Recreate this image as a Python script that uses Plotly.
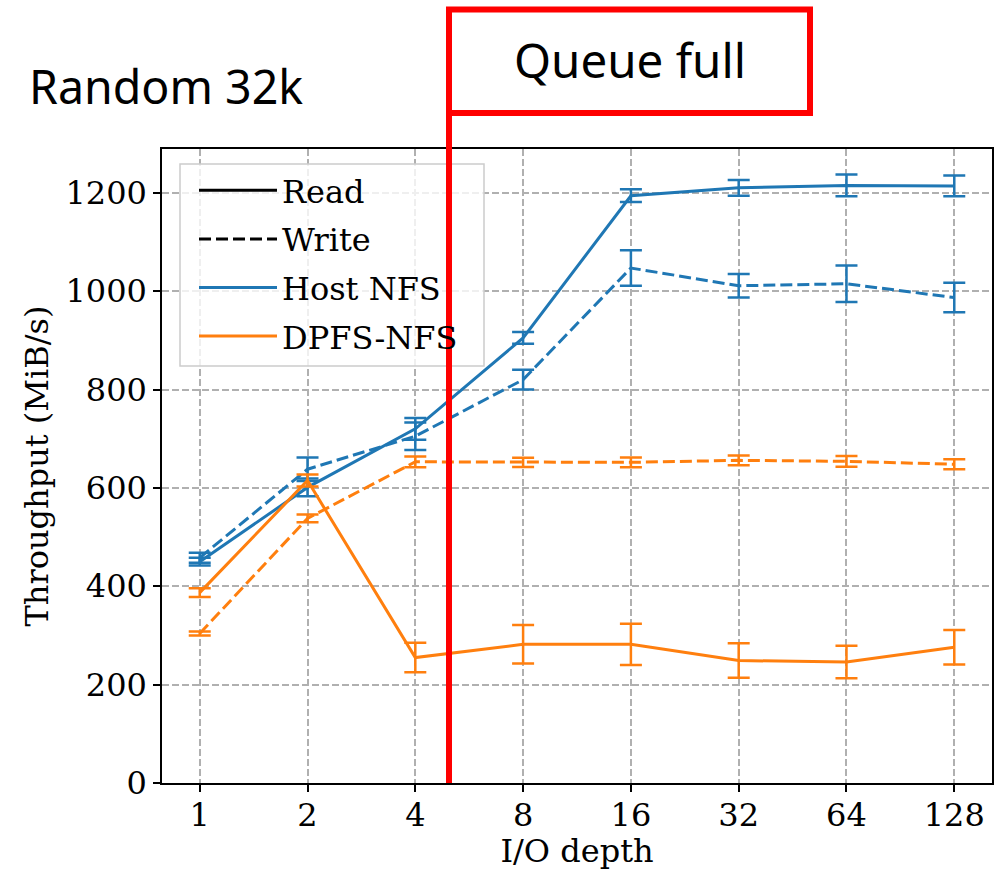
import plotly.graph_objects as go

depths = ["1", "2", "4", "8", "16", "32", "64", "128"]

host_read = [450, 601, 720, 905, 1194, 1210, 1215, 1214]
host_read_err = [8, 18, 22, 12, 13, 16, 22, 21]
host_write = [458, 638, 705, 820, 1047, 1011, 1015, 987]
host_write_err = [10, 24, 28, 20, 36, 24, 37, 30]
dpfs_read = [387, 615, 255, 282, 282, 249, 246, 276]
dpfs_read_err = [9, 12, 30, 39, 42, 35, 33, 35]
dpfs_write = [304, 538, 653, 652, 652, 656, 654, 648]
dpfs_write_err = [4, 8, 11, 9.5, 10, 10, 11, 10]

y_ticks = [0, 200, 400, 600, 800, 1000, 1200]

BLUE = "#1f77b4"
ORANGE = "#ff7f0e"
SERIF = "DejaVu Serif"
SANS = "Noto Sans"
FS = 32

fig = go.Figure()

def series(y, err, color, dash):
    fig.add_trace(go.Scatter(
        x=depths, y=y, mode="lines",
        line=dict(color=color, width=3, dash=dash),
        error_y=dict(type="data", array=err, visible=True, color=color,
                     thickness=2.5, width=11),
        showlegend=False, hoverinfo="skip",
    ))

series(host_read, host_read_err, BLUE, "solid")
series(host_write, host_write_err, BLUE, "12px,5px")
series(dpfs_read, dpfs_read_err, ORANGE, "solid")
series(dpfs_write, dpfs_write_err, ORANGE, "12px,5px")

# legend entries
legend_items = [("Read", "black", "solid"), ("Write", "black", "12px,5px"),
                ("Host NFS", BLUE, "solid"), ("DPFS-NFS", ORANGE, "solid")]
for i, (name, color, dash) in enumerate(legend_items):
    fig.add_trace(go.Scatter(
        x=[None], y=[None], mode="lines", name=name,
        line=dict(color=color, width=3, dash=dash),
        legendgroup=f"g{i}", showlegend=True,
    ))

def px_x(px):
    return (px - 162) / 830

def px_y(py):
    return (783 - py) / 634

shapes = [
    # legend background (semi transparent white)
    dict(type="rect", xref="paper", yref="paper",
         x0=px_x(180), x1=px_x(484), y0=px_y(366), y1=px_y(164),
         fillcolor="rgba(255,255,255,0.8)", line=dict(color="#cccccc", width=1.5),
         layer="above"),
    # queue-full vertical line
    dict(type="line", xref="paper", yref="paper",
         x0=px_x(449), x1=px_x(449), y0=0, y1=px_y(9.5),
         line=dict(color="#ff0000", width=6), layer="above"),
    # box
    dict(type="rect", xref="paper", yref="paper",
         x0=px_x(449), x1=px_x(810), y0=px_y(113), y1=px_y(9.5),
         line=dict(color="#ff0000", width=6), fillcolor="rgba(0,0,0,0)",
         layer="above"),
]

annotations = [
    dict(text="Random 32k", xref="paper", yref="paper",
         x=px_x(27), y=px_y(86), xanchor="left", yanchor="middle",
         showarrow=False, font=dict(family=SANS, size=46.5, color="black")),
    dict(text="Queue full", xref="paper", yref="paper",
         x=px_x(629.5), y=px_y(59), xanchor="center", yanchor="middle",
         showarrow=False, font=dict(family=SANS, size=47.5, color="black")),
]

fig.update_layout(
    width=1007, height=870,
    margin=dict(l=162, r=15, t=149, b=87, autoexpand=False),
    paper_bgcolor="white", plot_bgcolor="white",
    font=dict(family=SERIF, size=FS, color="black"),
    shapes=shapes, annotations=annotations,
    showlegend=True,
    legend=dict(x=px_x(194), y=px_y(163), xanchor="left", yanchor="top",
                bgcolor="rgba(0,0,0,0)", borderwidth=0,
                font=dict(family=SERIF, size=FS, color="black"),
                tracegroupgap=4, itemwidth=78),
    xaxis=dict(
        type="category", range=[-0.35, 7.35], automargin=False,
        title=dict(text="I/O depth", font=dict(family=SERIF, size=FS), standoff=5),
        showgrid=True, gridcolor="#b0b0b0", gridwidth=1.5, griddash="7px,3px",
        showline=True, linecolor="black", linewidth=1.5, mirror=True,
        ticks="outside", ticklen=7, tickwidth=1.5, tickcolor="black",
        ticklabelstandoff=-4,
        tickfont=dict(family=SERIF, size=FS), zeroline=False,
    ),
    yaxis=dict(
        range=[0, 1289], tickvals=y_ticks, automargin=False,
        title=dict(text="Throughput (MiB/s)", font=dict(family=SERIF, size=FS), standoff=7),
        showgrid=True, gridcolor="#b0b0b0", gridwidth=1.5, griddash="7px,3px",
        showline=True, linecolor="black", linewidth=1.5, mirror=True,
        ticks="outside", ticklen=7, tickwidth=1.5, tickcolor="black",
        tickfont=dict(family=SERIF, size=FS), zeroline=False,
    ),
)

fig.write_html("out.html")
